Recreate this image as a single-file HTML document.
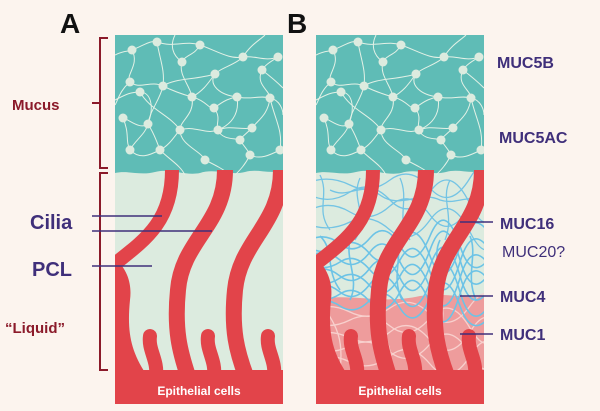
<!DOCTYPE html>
<html><head><meta charset="utf-8"><style>
html,body{margin:0;padding:0;background:#fcf4ee;}
svg{display:block;}
</style></head><body>
<svg width="600" height="411" viewBox="0 0 600 411" xmlns="http://www.w3.org/2000/svg" font-family="Liberation Sans, sans-serif">
<defs>
<clipPath id="cA"><rect x="115" y="35" width="168" height="369"/></clipPath>
<clipPath id="cB"><rect x="316" y="35" width="168" height="369"/></clipPath>
<g id="cil">
 <path d="M115,258 C128,270 132,285 130,300 C127,330 130,350 146,374 L115,374Z" fill="#e2444a"/>
 <g fill="none" stroke="#e2444a" stroke-linecap="butt">
  <path d="M172,170 C172,222 145,240 112,266" stroke-width="14"/>
  <path d="M225,170 C225,225 182,240 178,290 C174,330 180,352 188,376" stroke-width="16"/>
  <path d="M281,170 C281,225 240,240 235,290 C231,330 237,352 246,376" stroke-width="16"/>
  <path d="M156,376 C158,360 148,350 150,336" stroke-linecap="round" stroke-width="14"/>
  <path d="M214,376 C216,360 206,350 208,336" stroke-linecap="round" stroke-width="14"/>
  <path d="M274,376 C276,360 266,350 268,336" stroke-linecap="round" stroke-width="14"/>
 </g>
 <rect x="115" y="370" width="168" height="34" fill="#e2444a"/>
</g>
<g id="muc">
 <path d="M115,35 H283 V170 C270,175 258,168 245,172 C230,176 215,168 200,173 C185,176 170,168 155,172 C140,176 128,170 115,173Z" fill="#5fbcb6"/>
 <g fill="none" stroke="#e3f1e6" stroke-width="1">
  <path d="M115,55 C125,50 128,52 132,50 C145,45 150,40 157,42 C175,48 185,40 200,45 C215,50 230,60 243,57 C255,55 265,62 278,57"/>
  <path d="M132,50 C140,65 125,75 130,82 C140,90 150,80 163,86 C175,92 185,95 192,97 C205,100 210,110 214,108 C225,100 230,98 237,97"/>
  <path d="M157,42 C160,60 165,70 163,86 C160,100 150,110 148,124 C145,135 135,140 130,150"/>
  <path d="M200,45 C195,55 185,55 182,62 C178,75 190,85 192,97 C195,115 180,120 180,130 C180,145 200,150 205,160"/>
  <path d="M243,57 C235,65 220,68 215,74 C208,85 220,95 237,97 C250,100 260,95 270,98 C280,100 283,110 283,115"/>
  <path d="M278,57 C270,62 265,65 262,70 C255,85 270,90 270,98 C268,115 258,120 252,128 C245,135 240,138 240,140"/>
  <path d="M115,100 C125,95 130,92 140,92 C150,92 155,105 148,124 C140,130 130,120 123,118"/>
  <path d="M123,118 C130,135 125,140 130,150 C140,160 150,155 160,150 C170,145 175,135 180,130 C195,125 205,135 218,130 C230,125 240,130 252,128"/>
  <path d="M214,108 C222,118 215,125 218,130 C222,140 235,138 240,140 C245,148 248,150 250,155 C260,160 270,155 280,150"/>
  <path d="M160,150 C170,160 180,165 185,175 M205,160 C215,165 225,170 230,175 M250,155 C245,165 240,170 235,175"/>
  <path d="M130,82 C120,90 118,100 115,105 M262,70 C275,80 280,85 283,88 M243,57 C250,45 260,40 265,35 M182,62 C172,55 170,45 175,35"/>
  <path d="M140,92 C150,110 170,115 180,130 M237,97 C240,115 230,125 218,130 M163,86 C175,78 195,80 215,74"/>
  <path d="M270,98 C275,120 283,130 280,150 M148,124 C155,135 158,145 160,150 M192,97 C205,90 210,80 215,74"/>
 </g>
 <g fill="#dcebdf">
  <circle cx="132" cy="50" r="4.5"/><circle cx="157" cy="42" r="4.5"/><circle cx="200" cy="45" r="4.5"/><circle cx="243" cy="57" r="4.5"/><circle cx="278" cy="57" r="4.5"/>
  <circle cx="182" cy="62" r="4.5"/><circle cx="130" cy="82" r="4.5"/><circle cx="163" cy="86" r="4.5"/><circle cx="215" cy="74" r="4.5"/><circle cx="262" cy="70" r="4.5"/>
  <circle cx="140" cy="92" r="4.5"/><circle cx="192" cy="97" r="4.5"/><circle cx="237" cy="97" r="4.5"/><circle cx="270" cy="98" r="4.5"/><circle cx="123" cy="118" r="4.5"/>
  <circle cx="148" cy="124" r="4.5"/><circle cx="214" cy="108" r="4.5"/><circle cx="180" cy="130" r="4.5"/><circle cx="218" cy="130" r="4.5"/><circle cx="252" cy="128" r="4.5"/>
  <circle cx="130" cy="150" r="4.5"/><circle cx="160" cy="150" r="4.5"/><circle cx="205" cy="160" r="4.5"/><circle cx="250" cy="155" r="4.5"/><circle cx="240" cy="140" r="4.5"/><circle cx="280" cy="150" r="4.5"/>
 </g>
</g>
</defs>
<!-- Panel A -->
<g clip-path="url(#cA)">
 <rect x="115" y="35" width="168" height="369" fill="#dcebdf"/>
 <use href="#muc"/>
 <use href="#cil"/>
</g>
<!-- Panel B -->
<g clip-path="url(#cB)">
 <rect x="316" y="35" width="168" height="369" fill="#dcebdf"/>
 <path d="M316,300 C350,292 380,305 420,296 C450,292 470,300 484,296 V380 H316Z" fill="#ee9c9c"/>
 <g fill="none" stroke="#f8d0cd" stroke-width="1.3">
  <path d="M310,310 Q330,302 350,312 T390,308 T430,314 T470,306 T500,312"/>
  <path d="M310,322 Q330,330 350,320 T390,326 T430,318 T470,328 T500,320"/>
  <path d="M310,336 Q330,328 350,338 T390,332 T430,340 T470,332 T500,338"/>
  <path d="M310,348 Q330,356 350,346 T390,352 T430,344 T470,354 T500,346"/>
  <path d="M310,360 Q330,352 350,362 T390,356 T430,364 T470,356 T500,362"/>
  <path d="M320,300 C330,320 345,330 340,370 M380,300 C375,330 395,340 390,370 M440,300 C450,320 430,340 445,370"/>
 </g>
 <g fill="none" stroke="#74c4e4" stroke-width="1.3">
  <path d="M310,182 Q330,175 350,185 T390,180 T430,188 T470,178 T500,185"/>
  <path d="M310,195 Q330,205 350,192 T390,200 T430,192 T470,204 T500,195"/>
  <path d="M310,210 Q330,200 350,212 T390,206 T430,215 T470,205 T500,212"/>
  <path d="M310,225 Q330,232 350,222 T390,230 T430,220 T470,232 T500,222"/>
  <path d="M320,175 C330,195 315,210 330,230 M360,178 C350,200 370,215 355,240 M400,178 C410,200 395,220 410,240 M450,180 C440,200 455,215 445,240"/>
  <path d="M330,190 C350,200 360,180 380,195 C400,210 420,190 440,200 C455,205 465,195 484,200"/>
 </g>
 <g fill="none" stroke="#6cc3e6" stroke-width="1.6">
  <path d="M310,240 Q325,232 340,244 T370,238 T400,246 T430,236 T460,246 T500,240"/>
  <path d="M310,248 Q325,256 340,246 T370,254 T400,244 T430,256 T460,246 T500,254"/>
  <path d="M310,256 Q325,248 340,260 T370,252 T400,262 T430,250 T460,260 T500,252"/>
  <path d="M310,264 Q325,272 340,262 T370,270 T400,260 T430,272 T460,262 T500,270"/>
  <path d="M310,272 Q325,264 340,276 T370,268 T400,278 T430,266 T460,276 T500,268"/>
  <path d="M310,280 Q325,288 340,278 T370,286 T400,276 T430,288 T460,278 T500,286"/>
  <path d="M310,288 Q325,280 340,292 T370,284 T400,294 T430,282 T460,292 T500,284"/>
  <path d="M310,296 Q325,304 340,294 T370,302 T400,292 T430,304 T460,294 T500,302"/>
  <path d="M310,304 Q325,296 340,306 T370,300 T400,308 T430,298 T460,306 T500,300"/>
  <path d="M320,236 C335,250 325,270 340,290 M350,240 C345,260 360,280 350,300 M395,236 C405,255 390,275 402,300 M440,240 C430,260 448,280 438,300 M470,236 C478,255 465,275 476,300"/>
 </g>
 <use href="#muc" transform="translate(201,0)"/>
 <use href="#cil" transform="translate(201,0)"/>
 <text x="400" y="395" fill="#fff" font-size="12" font-weight="bold" text-anchor="middle">Epithelial cells</text>
</g>
<text x="199" y="395" fill="#fff" font-size="12" font-weight="bold" text-anchor="middle">Epithelial cells</text>
<text x="60" y="33" font-size="28" font-weight="bold" fill="#111">A</text>
<text x="287" y="33" font-size="28" font-weight="bold" fill="#111">B</text>
<g stroke="#8b1a2a" stroke-width="2" fill="none">
 <path d="M108,38 H100 V168 H108"/><path d="M100,103 H92"/>
 <path d="M108,173 H100 V370 H108"/>
</g>
<text x="12" y="110" font-size="15" font-weight="bold" fill="#8b1a2a">Mucus</text>
<text x="5" y="333" font-size="15" font-weight="bold" fill="#8b1a2a">“Liquid”</text>
<text x="30" y="229" font-size="20" font-weight="bold" fill="#3f2f7a">Cilia</text>
<text x="32" y="276" font-size="20" font-weight="bold" fill="#3f2f7a">PCL</text>
<g stroke="#3f2f7a" stroke-width="1.5">
 <path d="M92,216 H162"/><path d="M92,231 H212"/><path d="M92,266 H152"/>
 <path d="M460,222 H493"/><path d="M460,296 H493"/><path d="M460,334 H493"/>
</g>
<g fill="#3f2f7a" font-weight="bold" font-size="16">
<text x="497" y="68">MUC5B</text>
<text x="499" y="143">MUC5AC</text>
<text x="500" y="229">MUC16</text>
<text x="500" y="302">MUC4</text>
<text x="500" y="340">MUC1</text>
</g>
<text x="502" y="257" fill="#3f2f7a" font-size="16">MUC20?</text>
</svg>
</body></html>
